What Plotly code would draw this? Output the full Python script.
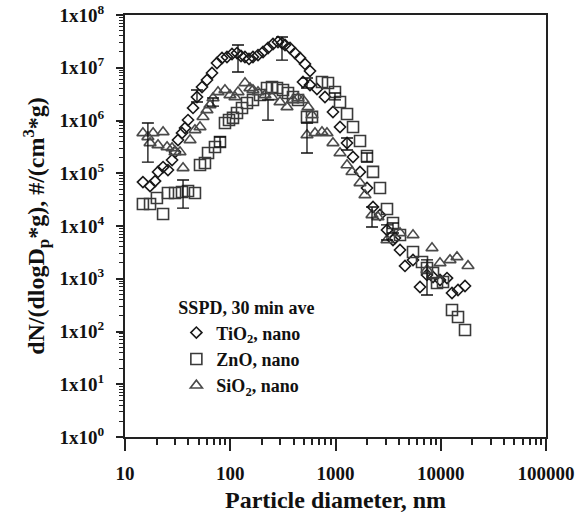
import plotly.graph_objects as go

# ---- data ----
tio2_x = [14.8, 17.3, 19.3, 20.6, 23.0, 25.6, 28.0, 29.9, 31.9, 34.8, 37.2, 39.7, 44.3, 48.3,
          53.9, 60.1, 67.1, 74.8, 83.5, 93.1, 103.9, 115.9, 126.5, 138.0, 150.7, 164.4, 183.5,
          204.8, 228.5, 254.8, 284.2, 310.2, 331.4, 369.6, 412.3, 460.1, 513.0, 572.4, 491.0,
          572.4, 666.8, 794.3, 946.2, 1104, 1287, 1467, 1710, 1992, 2272, 2647, 3085, 3518,
          3675, 4101, 4574, 5450, 6353, 7402, 8441, 9838, 11468, 12790, 14588, 17003]
tio2_y = [6.8e4, 5.7e4, 7.1e4, 1.06e5, 1.31e5, 1.15e5, 1.78e5, 2.53e5, 4.27e5, 5.79e5, 7.21e5,
          1.02e6, 1.73e6, 2.79e6, 4.32e6, 5.86e6, 7.95e6, 1.23e7, 1.53e7, 1.60e7, 1.82e7, 1.90e7,
          1.67e7, 1.60e7, 1.47e7, 1.60e7, 1.74e7, 1.99e7, 2.37e7, 2.82e7, 3.08e7, 2.94e7, 2.70e7,
          2.37e7, 1.90e7, 1.53e7, 1.18e7, 8.68e6, 5.37e6, 4.71e6, 3.96e6, 2.79e6, 1.45e6, 7.53e5,
          3.75e5, 2.03e5, 1.06e5, 5.25e4, 2.29e4, 1.62e4, 8.40e3, 5.43e3, 5.92e3, 3.51e3, 1.75e3,
          2.27e3, 698, 1.18e3, 1.08e3, 947, 1.03e3, 537, 612, 729]

zno_x = [14.8, 17.3, 20.1, 23.0, 25.6, 29.9, 34.8, 39.7, 46.2, 51.6, 57.5, 61.5, 71.6, 79.9,
         89.1, 97.3, 106.2, 115.9, 129.3, 144.2, 164.4, 191.7, 223.5, 249.3, 278.0, 317.0,
         353.8, 394.5, 440.4, 535.9, 598.0, 744.1, 848.5, 988.6, 1104, 1287, 1467, 1710, 1992,
         2272, 2647, 3085, 3518, 4101, 5450, 6637, 7402, 8441, 9214, 10505, 12790, 14588, 17003]
zno_y = [2.61e4, 2.61e4, 3.40e4, 1.69e4, 4.22e4, 4.22e4, 4.41e4, 4.61e4, 4.22e4, 1.43e5, 1.56e5,
         2.42e5, 3.15e5, 3.91e5, 8.97e5, 1.02e6, 1.12e6, 1.39e6, 1.73e6, 2.15e6, 2.45e6, 3.04e6,
         4.13e6, 4.32e6, 4.13e6, 3.79e6, 3.32e6, 2.79e6, 2.45e6, 1.17e6, 1.17e6, 5.37e6, 5.14e6,
         3.47e6, 2.24e6, 1.33e6, 7.53e5, 4.09e5, 2.12e5, 1.06e5, 5.25e4, 2.10e4, 1.14e4, 6.75e3,
         3.21e3, 2.08e3, 1.60e3, 1.29e3, 831, 868, 256, 188, 107]

sio2_x = [14.8, 16.5, 17.3, 18.5, 20.6, 23.0, 25.1, 28.0, 29.9, 33.3, 35.6, 41.5, 46.2, 51.6,
          55.1, 60.1, 64.2, 68.6, 76.5, 89.1, 99.4, 110.9, 118.5, 138.0, 154.0, 164.4, 183.5,
          213.9, 249.3, 297.0, 346.1, 394.5, 440.4, 491.0, 547.9, 598.0, 535.9, 638.3, 744.1,
          829.8, 946.2, 1104, 1287, 1435, 1710, 1906, 2223, 2534, 3085, 4101, 5450, 7402, 8259,
          9838, 12242, 14265, 18153]
sio2_y = [5.79e5, 4.87e5, 3.75e5, 5.79e5, 3.43e5, 6.05e5, 3.15e5, 3.01e5, 2.53e5, 2.53e5, 1.26e5,
          4.27e5, 6.61e5, 7.53e5, 1.17e6, 1.58e6, 1.97e6, 2.67e6, 3.47e6, 3.79e6, 3.04e6, 2.79e6,
          3.47e6, 5.14e6, 4.13e6, 3.79e6, 3.47e6, 3.04e6, 2.79e6, 2.24e6, 1.80e6, 2.45e6, 2.67e6,
          2.45e6, 1.80e6, 1.27e6, 5.31e5, 5.79e5, 6.05e5, 5.79e5, 3.75e5, 2.42e5, 1.43e5, 1.06e5,
          6.54e4, 3.87e4, 1.62e4, 1.48e4, 5.43e3, 7.37e3, 6.75e3, 1.47e3, 3.83e3, 1.99e3, 2.27e3,
          2.58e3, 1.75e3]

# error bars: x, value, upper, lower
err_x = [16.5, 35.6, 48.3, 68.6, 79.9, 118.5, 228.5, 310.2, 535.9, 535.9, 988.6, 1287, 1992,
         2223, 3085, 3518, 7402]
err_y = [4.87e5, 4.22e4, 2.79e6, 2.24e6, 3.91e5, 1.60e7, 1.55e6, 2.30e7, 5.20e6, 4.5e5, 2.85e6,
         3.6e5, 2.0e5, 1.48e4, 7.5e3, 9.2e3, 1.1e3]
err_hi = [8.97e5, 7.45e4, 3.79e6, 2.67e6, 4.87e5, 2.70e7, 2.45e6, 3.83e7, 6.39e6, 8.97e5, 3.32e6,
          4.66e5, 2.42e5, 2.29e4, 1.05e4, 1.14e4, 2.27e3]
err_lo = [1.63e5, 2.19e4, 2.24e6, 1.88e6, 3.15e5, 8.30e6, 1.02e6, 1.40e7, 4.13e6, 2.42e5, 2.45e6,
          2.76e5, 1.63e5, 9.57e3, 5.43e3, 7.37e3, 492]

y_tickvals = [1, 10, 100, 1e3, 1e4, 1e5, 1e6, 1e7, 1e8]
y_ticktext = ["<b>1x10<sup>%d</sup></b>" % i for i in range(9)]
x_tickvals = [10, 100, 1000, 10000, 100000]
x_ticktext = ["<b>10</b>", "<b>100</b>", "<b>1000</b>", "<b>10000</b>", "<b>100000</b>"]

FONT = "Liberation Serif, Times New Roman, serif"

fig = go.Figure()
fig.add_trace(go.Scatter(x=tio2_x, y=tio2_y, mode="markers", name="<b>TiO<sub>2</sub>, nano</b>",
                         marker=dict(symbol="diamond-open", size=8.5, color="#1a1a1a",
                                     line=dict(width=1.6, color="#1a1a1a"))))
fig.add_trace(go.Scatter(x=zno_x, y=zno_y, mode="markers", name="<b>ZnO, nano</b>",
                         marker=dict(symbol="square-open", size=11, color="#3a3a3a",
                                     line=dict(width=1.6, color="#3a3a3a"))))
fig.add_trace(go.Scatter(x=sio2_x, y=sio2_y, mode="markers", name="<b>SiO<sub>2</sub>, nano</b>",
                         marker=dict(symbol="triangle-up-open", size=10.5, color="#4a4a4a",
                                     line=dict(width=1.6, color="#4a4a4a"))))
fig.add_trace(go.Scatter(
    x=err_x, y=err_y, mode="markers", showlegend=False,
    marker=dict(size=1, opacity=0),
    error_y=dict(type="data", symmetric=False,
                 array=[h - v for h, v in zip(err_hi, err_y)],
                 arrayminus=[v - l for v, l in zip(err_y, err_lo)],
                 color="#111111", thickness=1.3, width=6)))

fig.update_layout(
    width=583, height=513,
    margin=dict(l=125, r=37, t=15, b=76, autoexpand=False),
    paper_bgcolor="white", plot_bgcolor="white",
    font=dict(family=FONT, color="#111111", size=18),
    legend=dict(x=0.122, y=0.346, xanchor="left", yanchor="top",
                bgcolor="rgba(0,0,0,0)", font=dict(family=FONT, size=18, color="#111111"),
                title=dict(text="<b>SSPD, 30 min ave</b>", font=dict(family=FONT, size=18)),
                itemwidth=30, tracegroupgap=0),
)
fig.update_xaxes(
    type="log", range=[1, 5], showgrid=False, zeroline=False, automargin=False,
    showline=True, linecolor="#222222", linewidth=2, mirror=True,
    ticks="outside", ticklen=12, tickwidth=2, tickcolor="#222222",
    tickvals=x_tickvals, ticktext=x_ticktext, ticklabelstandoff=6,
    tickfont=dict(family=FONT, size=19, color="#111111"),
    minor=dict(ticks="outside", ticklen=6, tickwidth=1.5, tickcolor="#222222", showgrid=False,
               dtick="D1"),
    title=dict(text="<b>Particle diameter, nm</b>", font=dict(family=FONT, size=24, color="#111111"),
               standoff=10),
)
fig.update_yaxes(
    type="log", range=[0, 8], showgrid=False, zeroline=False, automargin=False,
    showline=True, linecolor="#222222", linewidth=2, mirror=True,
    ticks="outside", ticklen=7, tickwidth=2, tickcolor="#222222",
    tickvals=y_tickvals, ticktext=y_ticktext, ticklabelstandoff=8,
    tickfont=dict(family=FONT, size=19, color="#111111"),
    minor=dict(ticks="outside", ticklen=4, tickwidth=1.2, tickcolor="#222222", showgrid=False,
               dtick="D1"),
    title=dict(text="<b>dN/(dlogD<sub>p</sub>*g), #/(cm<sup>3</sup>*g)</b>",
               font=dict(family=FONT, size=24, color="#111111"), standoff=8),
)

fig.write_html("out.html")
